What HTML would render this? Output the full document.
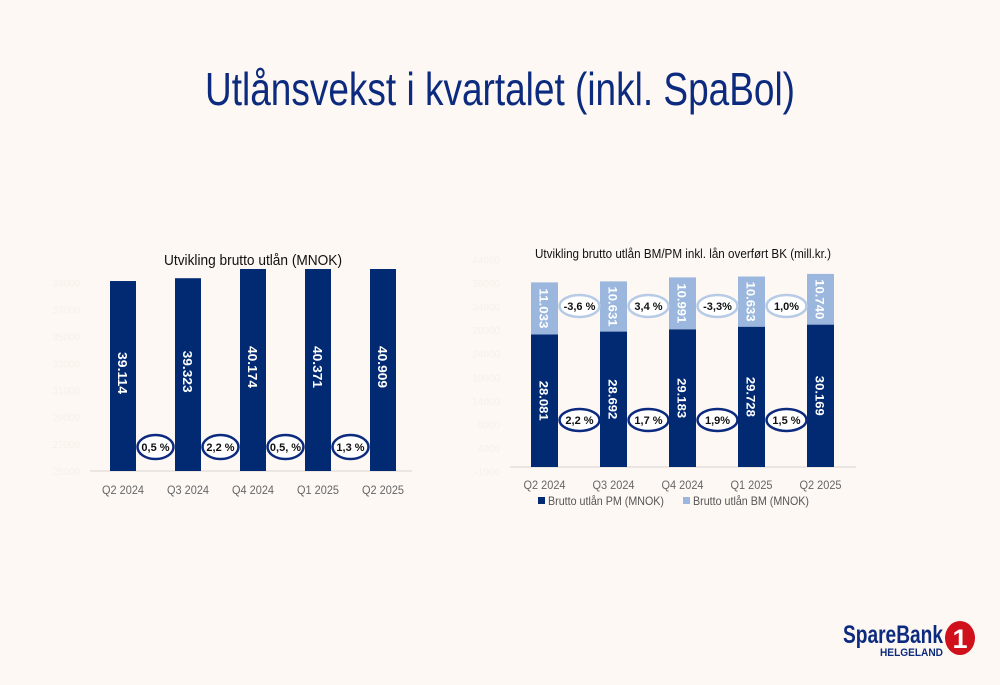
<!DOCTYPE html>
<html><head><meta charset="utf-8"><style>
body{margin:0;background:#fdf8f4;}
svg{display:block;font-family:"Liberation Sans",sans-serif;}
</style></head><body>
<svg id="s" width="1000" height="685" viewBox="0 0 1000 685">
<rect width="1000" height="685" fill="#fdf8f4"/>
<text x="500" y="105" text-anchor="middle" font-size="46" fill="#0d2b7e" textLength="590" lengthAdjust="spacingAndGlyphs">Utlånsvekst i kvartalet (inkl. SpaBol)</text>
<text x="253" y="265" text-anchor="middle" font-size="15" fill="#111" textLength="178" lengthAdjust="spacingAndGlyphs">Utvikling brutto utlån (MNOK)</text>
<text x="683" y="258" text-anchor="middle" font-size="13" fill="#111" textLength="296" lengthAdjust="spacingAndGlyphs">Utvikling brutto utlån BM/PM inkl. lån overført BK (mill.kr.)</text>
<g id="left"></g>
<g id="right"></g>
<g>
<text x="843" y="643" font-size="25" font-weight="bold" fill="#0d2b7e" textLength="100" lengthAdjust="spacingAndGlyphs">SpareBank</text>
<text x="880" y="656" font-size="11" font-weight="bold" fill="#0d2b7e" textLength="63" lengthAdjust="spacingAndGlyphs">HELGELAND</text>
<ellipse cx="960" cy="638" rx="15" ry="17" fill="#d0101a"/>
<text x="960" y="648" text-anchor="middle" font-size="27" font-weight="bold" fill="#fff">1</text>
</g>
</svg>
<script>
const cats=["Q2 2024","Q3 2024","Q4 2024","Q1 2025","Q2 2025"];
const leftVals=[39114,39323,40174,40371,40909];
const leftLabels=["39.114","39.323","40.174","40.371","40.909"];
const leftGrowth=["0,5 %","2,2 %","0,5, %","1,3 %"];
const leftTicks=[25000,27000,29000,31000,33000,35000,37000,39000];
const pmVals=[28081,28692,29183,29728,30169];
const bmVals=[11033,10631,10991,10633,10740];
const pmLabels=["28.081","28.692","29.183","29.728","30.169"];
const bmLabels=["11.033","10.631","10.991","10.633","10.740"];
const pmGrowth=["2,2 %","1,7 %","1,9%","1,5 %"];
const bmGrowth=["-3,6 %","3,4 %","-3,3%","1,0%"];
const rightTicks=[-1000,4000,9000,14000,19000,24000,29000,34000,39000,44000];
const NS="http://www.w3.org/2000/svg";
function mk(p,t,a,txt){const e=document.createElementNS(NS,t);for(const k in a)e.setAttribute(k,a[k]);if(txt!==undefined)e.textContent=txt;p.appendChild(e);return e;}
// left chart
const L=document.getElementById('left');
const ly=v=>471-(v-25000)*0.01346;
const lx=i=>123+i*65;
leftTicks.forEach(t=>{const e=mk(L,'text',{x:80,y:ly(t)+4,'text-anchor':'end','font-size':10,fill:'#f7f0ea'},t);

});
mk(L,'line',{x1:90,x2:412,y1:471,y2:471,stroke:'#d9d4d0','stroke-width':1});
leftVals.forEach((v,i)=>{const top=Math.max(ly(v),269);
const r=mk(L,'rect',{x:lx(i)-13,y:top,width:26,height:471-top,fill:'#012a72'});


const cy=(top+471)/2-3;
const t=mk(L,'text',{x:0,y:0,transform:`translate(${lx(i)-5},${cy}) rotate(90)`,'text-anchor':'middle','font-size':13,'font-weight':'bold',fill:'#fff',textLength:42,lengthAdjust:'spacingAndGlyphs'},leftLabels[i]);


const c=mk(L,'text',{x:lx(i),y:494,'text-anchor':'middle','font-size':12,fill:'#666',textLength:42,lengthAdjust:'spacingAndGlyphs'},cats[i]);

});
leftGrowth.forEach((g,i)=>{const cx=lx(i)+32.5;
const o=mk(L,'ellipse',{cx:cx,cy:447,rx:18,ry:12,fill:'#fff',stroke:'#0d2b7e','stroke-width':2.5});


mk(L,'text',{x:cx,y:451,'text-anchor':'middle','font-size':11,'font-weight':'bold',fill:'#111'},g);});
// right chart
const R=document.getElementById('right');
const ry=v=>467-v*0.00472;
const rx=i=>544.5+i*69;
rightTicks.forEach(t=>{const e=mk(R,'text',{x:500,y:ry(t)+4,'text-anchor':'end','font-size':10,fill:'#f7f0ea'},t);

});
mk(R,'line',{x1:510,x2:856,y1:467,y2:467,stroke:'#d9d4d0','stroke-width':1});
pmVals.forEach((v,i)=>{const tp=ry(v),tb=ry(v+bmVals[i]);
const a=mk(R,'rect',{x:rx(i)-13.5,y:tp,width:27,height:467-tp,fill:'#012a72'});


const b=mk(R,'rect',{x:rx(i)-13.5,y:tb,width:27,height:tp-tb,fill:'#9bb7dd'});


const t1=mk(R,'text',{x:0,y:0,transform:`translate(${rx(i)-5},${(tp+467)/2}) rotate(90)`,'text-anchor':'middle','font-size':12,'font-weight':'bold',fill:'#fff',textLength:40,lengthAdjust:'spacingAndGlyphs'},pmLabels[i]);


const t2=mk(R,'text',{x:0,y:0,transform:`translate(${rx(i)-5},${(tb+tp)/2}) rotate(90)`,'text-anchor':'middle','font-size':12,'font-weight':'bold',fill:'#fff',textLength:40,lengthAdjust:'spacingAndGlyphs'},bmLabels[i]);


const c=mk(R,'text',{x:rx(i),y:489,'text-anchor':'middle','font-size':12,fill:'#666',textLength:42,lengthAdjust:'spacingAndGlyphs'},cats[i]);

});
pmGrowth.forEach((g,i)=>{const cx=rx(i)+35;
const o=mk(R,'ellipse',{cx:cx,cy:420,rx:20,ry:11,fill:'#fff',stroke:'#0d2b7e','stroke-width':2.5});


mk(R,'text',{x:cx,y:424,'text-anchor':'middle','font-size':11,'font-weight':'bold',fill:'#111'},g);});
bmGrowth.forEach((g,i)=>{const cx=rx(i)+35;
const o=mk(R,'ellipse',{cx:cx,cy:306,rx:20,ry:11,fill:'#fff',stroke:'#b7cbe6','stroke-width':2.5});


mk(R,'text',{x:cx,y:310,'text-anchor':'middle','font-size':11,'font-weight':'bold',fill:'#111'},g);});
const lg1=mk(R,'rect',{x:538,y:497,width:7,height:7,fill:'#012a72'});


mk(R,'text',{x:548,y:505,'font-size':12,fill:'#555',textLength:116,lengthAdjust:'spacingAndGlyphs'},'Brutto utlån PM (MNOK)');
const lg2=mk(R,'rect',{x:683,y:497,width:7,height:7,fill:'#9bb7dd'});


mk(R,'text',{x:693,y:505,'font-size':12,fill:'#555',textLength:116,lengthAdjust:'spacingAndGlyphs'},'Brutto utlån BM (MNOK)');
</script>
</body></html>
